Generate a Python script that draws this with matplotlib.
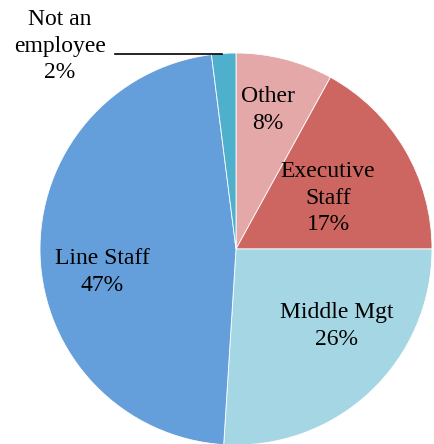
import matplotlib.pyplot as plt

labels = ["Other", "Executive\nStaff", "Middle Mgt", "Line Staff", "Not an\nemployee"]
shares = [8, 17, 26, 47, 2]
colors = ["#E3A8A7", "#CD6560", "#A5D6E3", "#659FDB", "#4FB0CE"]

plt.rcParams['font.family'] = ['Liberation Serif', 'DejaVu Serif']

fig = plt.figure(figsize=(4.34, 4.44), dpi=100)
ax = fig.add_axes([0, 0, 1, 1])

cx, cy, r = 236, 444 - 249, 196
ax.pie(shares, colors=colors, startangle=90, counterclock=False,
       center=(cx, cy), radius=r, frame=True,
       wedgeprops=dict(edgecolor='white', linewidth=0.6))
ax.set_xlim(0, 434)
ax.set_ylim(0, 444)
ax.set_aspect('equal')
ax.axis('off')

# label positions in pixels (top-left origin)
pos = [(268, 110), (328, 198), (337, 326), (102, 272), (60, 46)]
for lab, pct, (x, y) in zip(labels, shares, pos):
    ax.text(x, 444 - y, f"{lab}\n{pct}%", ha='center', va='center',
            fontsize=17, linespacing=1.32, color='black')

# leader line for the small slice
ax.plot([115, 222], [444 - 54, 444 - 54], color='black', lw=1.2)

fig.savefig("out.png", dpi=100)
